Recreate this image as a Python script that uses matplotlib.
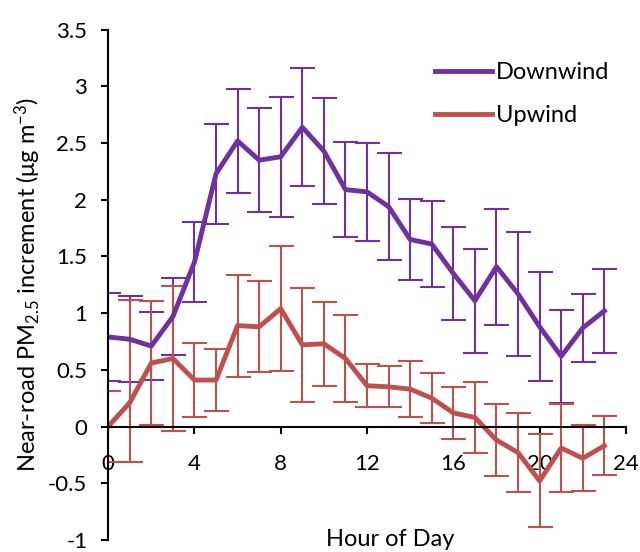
import numpy as np
import matplotlib
matplotlib.use("Agg")
import matplotlib.pyplot as plt

plt.rcParams['font.family'] = ['Lato', 'DejaVu Sans']
plt.rcParams['mathtext.fontset'] = 'custom'
plt.rcParams['mathtext.rm'] = 'Lato'
plt.rcParams['mathtext.default'] = 'regular'

# Hourly near-road PM2.5 increments
hours = np.arange(24)

down_mean = [0.79, 0.77, 0.71, 0.97, 1.45, 2.23, 2.52, 2.35, 2.38, 2.64, 2.43, 2.09,
             2.07, 1.94, 1.65, 1.61, 1.35, 1.11, 1.41, 1.17, 0.88, 0.62, 0.87, 1.02]
down_err = [0.39, 0.38, 0.30, 0.34, 0.35, 0.44, 0.46, 0.46, 0.53, 0.52, 0.47, 0.42,
            0.43, 0.47, 0.36, 0.38, 0.41, 0.46, 0.51, 0.55, 0.48, 0.41, 0.30, 0.37]

up_mean = [0.00, 0.21, 0.56, 0.60, 0.41, 0.41, 0.89, 0.88, 1.04, 0.72, 0.73, 0.60,
           0.36, 0.35, 0.33, 0.25, 0.12, 0.08, -0.12, -0.23, -0.48, -0.19, -0.28, -0.17]
up_err_lo = [0.31, 0.52, 0.55, 0.64, 0.33, 0.27, 0.45, 0.40, 0.55, 0.50, 0.37, 0.38,
             0.19, 0.18, 0.25, 0.22, 0.23, 0.31, 0.32, 0.35, 0.41, 0.39, 0.29, 0.26]
up_err_hi = [0.31, 0.91, 0.55, 0.64, 0.33, 0.27, 0.45, 0.40, 0.55, 0.50, 0.37, 0.38,
             0.19, 0.18, 0.25, 0.22, 0.23, 0.31, 0.32, 0.35, 0.41, 0.39, 0.29, 0.26]

purple = '#7030A0'
red = '#C0504D'

fig = plt.figure(figsize=(6.4, 5.52), dpi=100)
ax = fig.add_axes([0.169, 0.022, 0.809, 0.924])

down = ax.errorbar(hours, down_mean, yerr=down_err, color=purple, lw=3.5,
                   elinewidth=1.5, capsize=9, capthick=1.5, label='Downwind')
up = ax.errorbar(hours, up_mean, yerr=[up_err_lo, up_err_hi], color=red, lw=3.5,
                 elinewidth=1.5, capsize=9, capthick=1.5, label='Upwind')

ax.set_xlim(0, 24)
ax.set_ylim(-1, 3.5)
ax.set_xticks([0, 4, 8, 12, 16, 20, 24])
ax.set_yticks(np.arange(-1, 3.51, 0.5))
ax.set_yticklabels(['-1', '-0.5', '0', '0.5', '1', '1.5', '2', '2.5', '3', '3.5'])

ax.spines['top'].set_visible(False)
ax.spines['right'].set_visible(False)
ax.spines['bottom'].set_position(('data', 0))
ax.spines['left'].set_linewidth(1.5)
ax.spines['bottom'].set_linewidth(1.5)
ax.tick_params(axis='both', direction='out', length=5, width=1.5, labelsize=16)
ax.tick_params(axis='x', pad=15)
ax.tick_params(axis='y', pad=10)

ax.set_xlabel('Hour of Day', fontsize=17)
ax.xaxis.set_label_coords(0.545, 0.022)
ax.set_ylabel('Near-road PM$_{2.5}$ increment (μg m$^{-3}$)', fontsize=17)
ax.yaxis.set_label_coords(-0.125, 0.5)

ax.legend(handles=[down.lines[0], up.lines[0]], labels=['Downwind', 'Upwind'],
          loc='upper left', bbox_to_anchor=(0.632, 0.937), frameon=False,
          fontsize=17, handlelength=2.4, handletextpad=0.15, labelspacing=0.95,
          borderpad=0, borderaxespad=0)

plt.savefig('out.png', dpi=100)
